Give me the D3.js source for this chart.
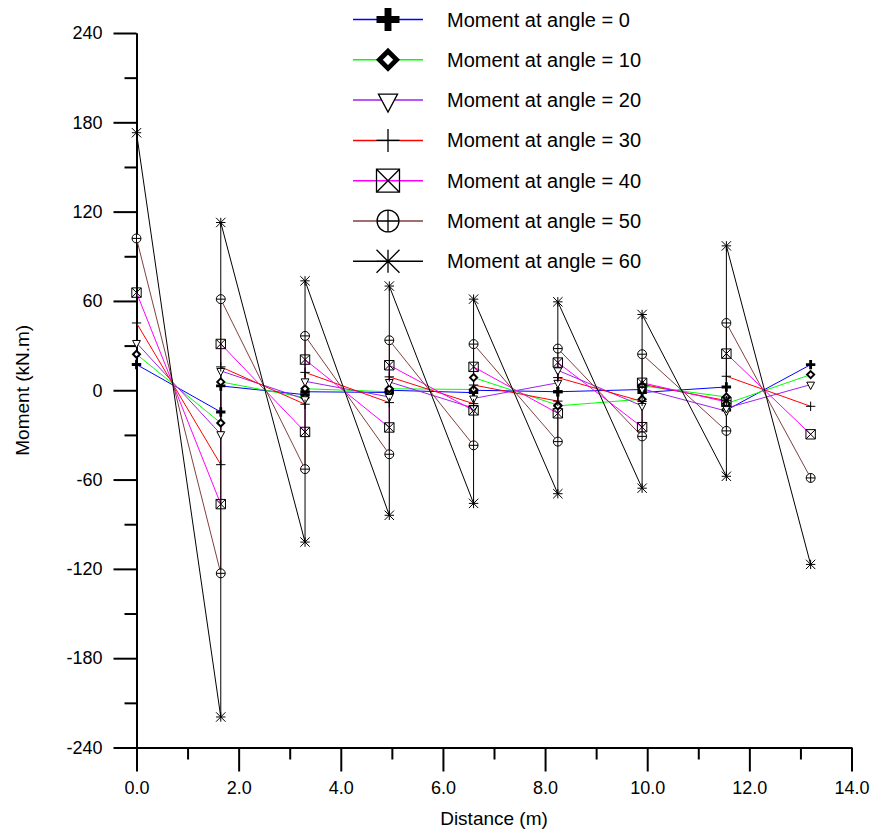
<!DOCTYPE html>
<html>
<head>
<meta charset="utf-8">
<script src="https://cdn.jsdelivr.net/npm/d3@7"></script>
<style>
  html, body { margin: 0; padding: 0; background: #fff; }
  svg { display: block; }
  text { font-family: "Liberation Sans", Arial, Helvetica, sans-serif; fill: #000; }
</style>
</head>
<body>
<svg id="chart" width="875" height="837"></svg>
<script>
// Distance along the beam (m); interior supports appear twice (left / right of the support)
const distance = [0, 1.65, 1.65, 3.3, 3.3, 4.95, 4.95, 6.6, 6.6, 8.25, 8.25, 9.9, 9.9, 11.55, 11.55, 13.2];

// Bending moment (kN.m) for each loading angle
const moment0  = [17.3, -14.6, 2.9, -3, -1, -1.5, 0, -1.6, 0, -1, -1, 0.5, -1.5, 2.2, -13.4, 17.2];
const moment10 = [24.2, -22, 5.6, -5, 1, -1, 1, 0.5, 8.5, -10, -10.5, -6, 3, -4.5, -9, 10.5];
const moment20 = [31.8, -29.5, 13, -6, 6, -4.5, 5.6, -12, -5.5, 5, 13.4, -10.5, 1, -14, -12, 3.8];
const moment30 = [45.2, -50, 15.7, -9.4, 12, -8.3, 9, -9, 3.5, -7.3, 8.5, -7.5, 4, -7, 9.4, -10.8];
const moment40 = [65.6, -76.5, 31.1, -28, 20.6, -25, 16.8, -13.5, 15.7, -15.5, 18.6, -24.8, 5, -7.8, 24.6, -29.6];
const moment50 = [102, -123, 61.2, -53, 36.5, -43, 33.6, -37, 31, -34.5, 28, -31, 24.2, -27.3, 45.2, -58.9];
const moment60 = [173, -219.5, 112.7, -102, 73.5, -84, 70, -76, 61.2, -69.5, 59.4, -65.8, 50.9, -57.8, 97, -117];

const seriesNames = [
  "Moment at angle = 0", "Moment at angle = 10", "Moment at angle = 20",
  "Moment at angle = 30", "Moment at angle = 40", "Moment at angle = 50",
  "Moment at angle = 60"
];
const seriesValues = [moment0, moment10, moment20, moment30, moment40, moment50, moment60];
const seriesColors = ["#0000ff", "#00ff00", "#a020f0", "#ff0000", "#ff00ff", "#804040", "#000000"];
const seriesMarkers = ["boldPlus", "diamond", "triangleDown", "plus", "squareX", "circlePlus", "star"];

const xMajorTicks = [0, 2, 4, 6, 8, 10, 12, 14];
const xMajorLabels = ["0.0", "2.0", "4.0", "6.0", "8.0", "10.0", "12.0", "14.0"];
const xMinorTicks = [1, 3, 5, 7, 9, 11, 13];
const yMajorTicks = [-240, -180, -120, -60, 0, 60, 120, 180, 240];
const yMajorLabels = ["-240", "-180", "-120", "-60", "0", "60", "120", "180", "240"];
const yMinorTicks = [-210, -150, -90, -30, 30, 90, 150, 210];

const svg = d3.select("#chart");

const x = d3.scaleLinear().domain([0, 14]).range([136.5, 851.5]);
const y = d3.scaleLinear().domain([-240, 240]).range([747.5, 33]);

// ---- axes ----
const axisStyle = g => {
  g.selectAll(".domain").attr("stroke", "#000").attr("stroke-width", 2);
  g.selectAll(".tick line").attr("stroke", "#000").attr("stroke-width", 2);
  g.selectAll("text").attr("font-size", 18).attr("font-family", '"Liberation Sans", Arial, sans-serif').attr("fill", "#000");
};

svg.append("g")
  .attr("transform", `translate(${x(0)},0)`)
  .call(d3.axisLeft(y).tickValues(yMinorTicks).tickSize(12).tickFormat("").tickSizeOuter(0))
  .call(axisStyle);
svg.append("g")
  .attr("transform", `translate(${x(0)},0)`)
  .call(d3.axisLeft(y).tickValues(yMajorTicks).tickSize(23).tickPadding(11).tickSizeOuter(0)
        .tickFormat((d, i) => yMajorLabels[i]))
  .call(axisStyle);

svg.append("g")
  .attr("transform", `translate(0,${y(-240)})`)
  .call(d3.axisBottom(x).tickValues(xMinorTicks).tickSize(12).tickFormat("").tickSizeOuter(0))
  .call(axisStyle);
svg.append("g")
  .attr("transform", `translate(0,${y(-240)})`)
  .call(d3.axisBottom(x).tickValues(xMajorTicks).tickSize(24).tickPadding(10).tickSizeOuter(0)
        .tickFormat((d, i) => xMajorLabels[i]))
  .call(axisStyle);

// axis titles
svg.append("text")
  .attr("x", (x(0) + x(14)) / 2).attr("y", 825)
  .attr("text-anchor", "middle").attr("font-size", 19)
  .text("Distance (m)");
svg.append("text")
  .attr("transform", `translate(29,${(y(-240) + y(240)) / 2}) rotate(-90)`)
  .attr("text-anchor", "middle").attr("font-size", 19)
  .text("Moment (kN.m)");

// ---- marker symbols ----
function drawMarker(parent, type, cx, cy, s, sw) {
  const m = parent.append("g").attr("transform", `translate(${cx},${cy})`);
  const stroke = sel => sel.attr("fill", "none").attr("stroke", "#000").attr("stroke-width", sw);
  switch (type) {
    case "boldPlus": {
      const t = s * 0.3;
      m.append("path")
        .attr("d", `M${-t},${-s}H${t}V${-t}H${s}V${t}H${t}V${s}H${-t}V${t}H${-s}V${-t}H${-t}Z`)
        .attr("fill", "#000");
      break;
    }
    case "diamond": {
      const r = s * 0.75;
      m.append("path")
        .attr("d", `M0,${-r}L${r},0L0,${r}L${-r},0Z`)
        .attr("fill", "#fff").attr("stroke", "#000")
        .attr("stroke-width", s * 0.42).attr("stroke-linejoin", "miter");
      break;
    }
    case "triangleDown": {
      const hw = s * 0.83, h = s * 1.57;
      m.append("path")
        .attr("d", `M${-hw},${-h / 3}L${hw},${-h / 3}L0,${2 * h / 3}Z`)
        .call(stroke).attr("fill", "#fff");
      break;
    }
    case "plus": {
      m.append("path").attr("d", `M${-s},0H${s}M0,${-s}V${s}`).call(stroke);
      break;
    }
    case "squareX": {
      m.append("path")
        .attr("d", `M${-s},${-s}H${s}V${s}H${-s}ZM${-s},${-s}L${s},${s}M${s},${-s}L${-s},${s}`)
        .call(stroke).attr("fill", "#fff");
      m.select("path").attr("fill", "none");
      break;
    }
    case "circlePlus": {
      m.append("circle").attr("r", s * 0.95).call(stroke).attr("fill", "#fff");
      m.append("path").attr("d", `M${-s * 0.95},0H${s * 0.95}M0,${-s * 0.95}V${s * 0.95}`).call(stroke);
      break;
    }
    case "star": {
      m.append("path")
        .attr("d", `M${-s},0H${s}M0,${-s}V${s}M${-s},${-s}L${s},${s}M${s},${-s}L${-s},${s}`)
        .call(stroke);
      break;
    }
  }
  return m;
}

// ---- series lines ----
const line = d3.line().x(d => x(d[0])).y(d => y(d[1]));
const plot = svg.append("g");

seriesValues.forEach((vals, i) => {
  const pts = vals.map((v, j) => [distance[j], v]);
  plot.append("path")
    .attr("d", line(pts))
    .attr("fill", "none")
    .attr("stroke", seriesColors[i])
    .attr("stroke-width", 1);
});

// ---- series markers ----
seriesValues.forEach((vals, i) => {
  const g = plot.append("g");
  vals.forEach((v, j) => {
    drawMarker(g, seriesMarkers[i], x(distance[j]), y(v), 4.7, 1);
  });
});

// ---- legend ----
const legend = svg.append("g");
seriesNames.forEach((name, i) => {
  const ry = 19.5 + i * 40.3;
  legend.append("line")
    .attr("x1", 353).attr("x2", 423).attr("y1", ry).attr("y2", ry)
    .attr("stroke", seriesColors[i]).attr("stroke-width", 1.5);
  drawMarker(legend, seriesMarkers[i], 388, ry, 11.5, 1.3);
  legend.append("text")
    .attr("x", 447).attr("y", ry + 7)
    .attr("font-size", 20)
    .text(name);
});
</script>
</body>
</html>
